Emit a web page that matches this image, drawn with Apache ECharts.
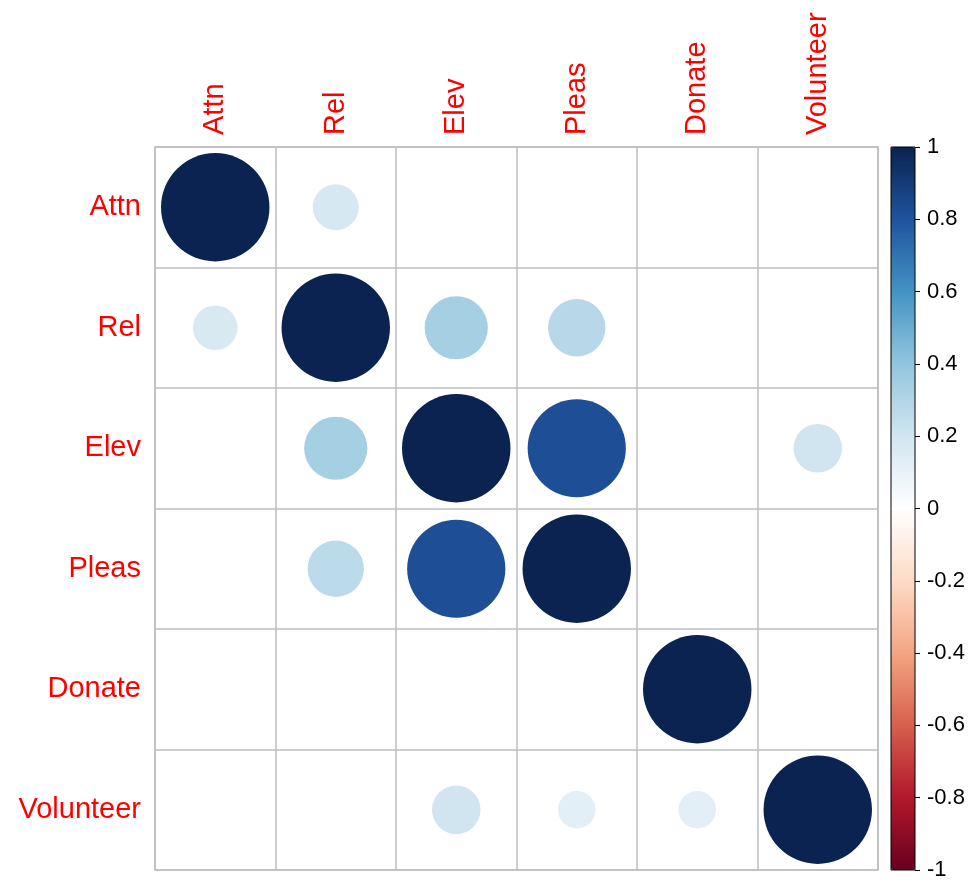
<!DOCTYPE html>
<html>
<head>
<meta charset="utf-8">
<script src="https://cdn.jsdelivr.net/npm/echarts@6/dist/echarts.min.js"></script>
<style>html,body{margin:0;padding:0;background:#fff}#c{width:972px;height:888px}</style>
</head>
<body>
<div id="c"></div>
<script>
var variables = ['Attn', 'Rel', 'Elev', 'Pleas', 'Donate', 'Volunteer'];
var rowAttn      = [1,     0.18,  0.0015, 0.0015, 0.0015, 0.0015];
var rowRel       = [0.17,  1,     0.34,   0.28,   0.0015, 0.0015];
var rowElev      = [0.0015,0.34,  1,      0.82,   0.0015, 0.20];
var rowPleas     = [0.0015,0.27,  0.82,   1,      0.0015, 0.0015];
var rowDonate    = [0.0015,0.0015,0.0015, 0.0015, 1,      0.0015];
var rowVolunteer = [0.0015,0.0015,0.20,   0.12,   0.12,   1];
var colorTicks = [-1, -0.8, -0.6, -0.4, -0.2, 0, 0.2, 0.4, 0.6, 0.8, 1];
var palette = ['#67001F','#B2182B','#D6604D','#F4A582','#FDDBC7','#FFFFFF','#D1E5F0','#92C5DE','#4393C3','#1F539E','#0A2350'];

var rows = [rowAttn, rowRel, rowElev, rowPleas, rowDonate, rowVolunteer];
var data = [];
rows.forEach(function (r, i) {
  r.forEach(function (v, j) { data.push([variables[j], variables[i], v]); });
});

var G = {left: 155, top: 147, w: 723, h: 723};
var cell = G.w / variables.length;
var font = 'Liberation Sans, Arial, sans-serif';

var chart = echarts.init(document.getElementById('c'));
chart.setOption({
  animation: false,
  backgroundColor: '#fff',
  grid: [
    {left: G.left, top: G.top, width: G.w, height: G.h, show: true, borderColor: '#bebebe', borderWidth: 1.5, z: 1},
    {left: 891, top: G.top, width: 24, height: G.h, show: true, borderColor: '#000', borderWidth: 1, backgroundColor: 'transparent', z: 10}
  ],
  xAxis: [
    {type: 'category', gridIndex: 0, data: variables, position: 'top', boundaryGap: true,
     axisLine: {show: false}, axisTick: {show: false},
     splitLine: {show: true, lineStyle: {color: '#bebebe', width: 1.5}},
     axisLabel: {rotate: -90, color: '#ff0000', fontSize: 29, fontFamily: font, margin: 12, interval: 0}},
    {type: 'category', gridIndex: 1, data: [''], show: false}
  ],
  yAxis: [
    {type: 'category', gridIndex: 0, data: variables, inverse: true, boundaryGap: true,
     axisLine: {show: false}, axisTick: {show: false},
     splitLine: {show: true, lineStyle: {color: '#bebebe', width: 1.5}},
     axisLabel: {color: '#ff0000', fontSize: 29, fontFamily: font, margin: 14, interval: 0}},
    {type: 'value', gridIndex: 1, min: -1, max: 1, interval: 0.2, position: 'right', z: 10,
     axisLine: {show: false},
     axisTick: {show: true, length: 5, lineStyle: {color: '#000'}},
     splitLine: {show: false},
     axisLabel: {color: '#000', fontSize: 22, fontFamily: font, margin: 12,
       formatter: function (v) { var r = Math.round(v * 10) / 10; return colorTicks.indexOf(r) >= 0 ? String(r) : ''; }}}
  ],
  visualMap: {
    type: 'continuous', min: -1, max: 1, seriesIndex: 0, dimension: 2,
    calculable: false, orient: 'vertical', left: 891, top: G.top, padding: 0,
    itemWidth: 24, itemHeight: G.h, text: null, showLabel: false, hoverLink: false,
    inRange: {color: palette}
  },
  series: [{
    type: 'scatter', xAxisIndex: 0, yAxisIndex: 0, data: data, z: 3,
    symbol: 'circle',
    symbolSize: function (d) { return 0.9 * cell * Math.sqrt(Math.abs(d[2])); },
    itemStyle: {opacity: 1}
  }]
});
</script>
</body>
</html>
